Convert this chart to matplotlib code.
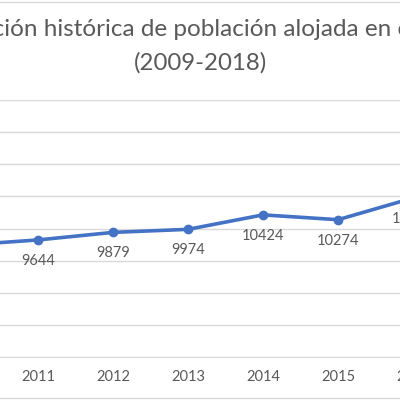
import matplotlib
matplotlib.use("Agg")
import matplotlib.pyplot as plt
from matplotlib.lines import Line2D

years = ['2009', '2010', '2011', '2012', '2013', '2014', '2015', '2016', '2017', '2018']
values = [9300, 9480, 9644, 9879, 9974, 10424, 10274, 10950, 11500, 11800]
title_line1 = "Evolución histórica de población alojada en centros"
title_line2 = "(2009-2018)"

FONT = ['Lato', 'DejaVu Sans']
GREY = '#595959'
GRID = '#d9d9d9'
BLUE = '#4472C4'

fig = plt.figure(figsize=(4, 4), dpi=100)
ax = fig.add_axes([0, 1 - 357 / 400, 1, (357 - 100) / 400])

x = list(range(len(years)))
ax.plot(x, values, color=BLUE, lw=2.6, marker='o', ms=6, solid_capstyle='round', zorder=3)
ax.set_xticks(x, [''] * len(x))
ax.set_yticks(range(6000, 14001, 1000))
ax.set_xlim(2 - 38 / 75, 2 + 362 / 75)
ax.set_ylim(6000, 14000)
ax.yaxis.grid(True, color=GRID, lw=1)
ax.tick_params(axis='y', left=False, labelleft=False)
ax.tick_params(axis='x', length=0)
for s in ['left', 'right', 'top']:
    ax.spines[s].set_visible(False)
ax.spines['bottom'].set_color(GRID)

# category labels (drawn as annotations so partially visible ones show up)
for i, yr in zip(x, years):
    ax.annotate(yr, (i, 6000), xytext=(0, -14.5), textcoords='offset points',
                ha='center', va='center', fontsize=10.5, color=GREY, family=FONT,
                annotation_clip=False)

for i, v in zip(x, values):
    ax.annotate(str(v), (i, v), xytext=(0, -15), textcoords='offset points',
                ha='center', va='center', fontsize=10.5, color=GREY, family=FONT,
                annotation_clip=False)

fig.text(205 / 400, 1 - 30 / 400, title_line1, ha='center', va='center',
         fontsize=17.5, color=GREY, family=FONT)
fig.text(201 / 400, 1 - 63 / 400, title_line2, ha='center', va='center',
         fontsize=17.3, color=GREY, family=FONT)

fig.add_artist(Line2D([0, 1], [1 - 1.5 / 400, 1 - 1.5 / 400], transform=fig.transFigure, color=GRID, lw=1))
fig.add_artist(Line2D([0, 1], [1 - 398 / 400, 1 - 398 / 400], transform=fig.transFigure, color=GRID, lw=1))

fig.savefig('out.png', dpi=100)
